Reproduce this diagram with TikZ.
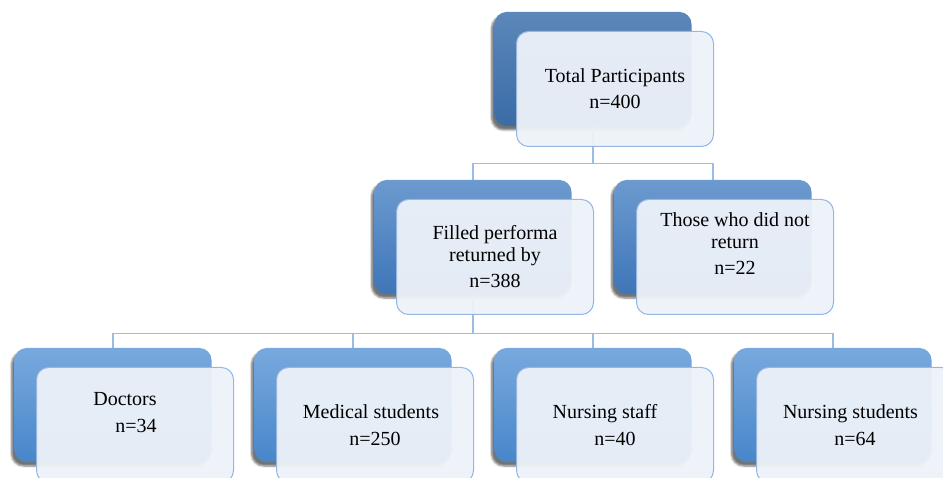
\documentclass[tikz,border=0pt]{standalone}
\usepackage{fontspec}
\setmainfont{Liberation Serif}
\usetikzlibrary{calc, positioning, shadows.blur}

\definecolor{linkblue}{HTML}{9CBCE3}
\definecolor{frontfill}{HTML}{EDF2F9}
\definecolor{frontline}{HTML}{95B7E1}

\tikzset{
  backbox/.style={rounded corners=12pt, minimum width=197pt,
    minimum height=114pt, inner sep=0pt,
    blur shadow={shadow xshift=-3pt, shadow yshift=-4pt,
      shadow blur steps=5, shadow opacity=55}},
  lvlone/.style={backbox, top color={rgb,255:red,92;green,135;blue,186},
    bottom color={rgb,255:red,58;green,108;blue,166}},
  lvltwo/.style={backbox, top color={rgb,255:red,108;green,154;blue,207},
    bottom color={rgb,255:red,62;green,118;blue,184}},
  lvlthree/.style={backbox, top color={rgb,255:red,120;green,169;blue,222},
    bottom color={rgb,255:red,72;green,134;blue,202}},
  frontbox/.style={draw=frontline, line width=1pt, fill=frontfill,
    fill opacity=0.95, text opacity=1, rounded corners=12pt,
    minimum width=197pt, minimum height=115pt, inner sep=0pt,
    align=center, font=\fontsize{20}{22}\selectfont,
    xshift=22pt, yshift=-20pt},
  link/.style={draw=linkblue, line width=1.1pt},
}

\begin{document}
\begin{tikzpicture}[x=1pt, y=-1pt]

\useasboundingbox (0,0) rectangle (943,478);

% back boxes
\node[lvlone] (total) at (593,69) {};

\node[lvltwo] (filled) at (473,237) {};
\node[lvltwo] (notret) at (713,237) {};

\node[lvlthree] (doctors) at (113,405) {};
\node[lvlthree] (medstud) at (353,405) {};
\node[lvlthree] (nurstaff) at (593,405) {};
\node[lvlthree] (nurstud) at (833,405) {};

% connectors
\coordinate[below = 37pt of total.south] (fork1);
\coordinate[below = 39pt of filled.south] (fork2);

\draw[link] (total.south) -- (fork1) -| (filled.north);
\draw[link] (fork1) -| (notret.north);

\draw[link] (filled.south) -- (fork2);
\foreach \n in {doctors, medstud, nurstaff, nurstud}
  \draw[link] (fork2) -| (\n.north);

% front boxes
\node[frontbox] (totalf) at (total) {Total Participants\\[4pt]n=400};

\node[frontbox] (filledf) at (filled) {Filled performa\\returned by\\[4pt]n=388};
\node[frontbox] (notretf) at (notret) {Those who did not\\return\\[4pt]n=22\rule[-26pt]{0pt}{26pt}};

\node[frontbox] (doctorsf) at (doctors) {Doctors\hspace*{20pt}\\[5pt]\hspace*{2pt}n=34\rule[-26pt]{0pt}{26pt}};
\node[frontbox] (medstudf) at (medstud) {Medical students\hspace*{8pt}\\[5pt]n=250};
\node[frontbox] (nurstafff) at (nurstaff) {Nursing staff\hspace*{20pt}\\[5pt]n=40};
\node[frontbox] (nurstudf) at (nurstud) {Nursing students\hspace*{9pt}\\[5pt]n=64};

\end{tikzpicture}
\end{document}
